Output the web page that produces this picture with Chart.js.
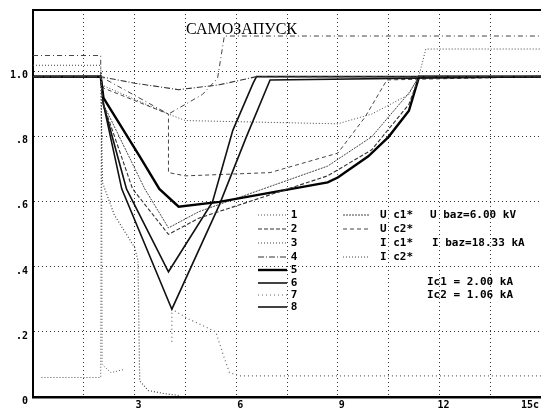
<!DOCTYPE html>
<html>
<head>
<meta charset="utf-8">
<script src="https://cdn.jsdelivr.net/npm/chart.js@4"></script>
<style>
  html, body { margin: 0; padding: 0; background: #fff; }
  canvas { display: block; }
</style>
</head>
<body>
<canvas id="grafico" width="541" height="410"></canvas>
<script>
// Ejes
const xTickValues = [0, 1.5, 3, 4.5, 6, 7.5, 9, 10.5, 12, 13.5, 15];
const xTickLabels = ['', '', '3', '', '6', '', '9', '', '12', '', '15c     '];
const yTickValues = [0, 0.2, 0.4, 0.6, 0.8, 1.0];
const yTickLabels = ['0', '.2', '.4', '.6', '.8', '1.0'];

// Curvas 1..8 (tiempo, valor relativo)
const t1 = [0.25, 2.0, 2.02, 2.04, 2.3, 2.7];
const v1 = [0.06, 0.06, 1.0, 0.1, 0.075, 0.085];

const t2 = [0, 2, 2.08, 2.94, 4.0, 4.9, 8.7, 10.0, 11.1, 11.4, 15];
const v2 = [0.985, 0.985, 0.9, 0.64, 0.50, 0.55, 0.68, 0.76, 0.9, 0.985, 0.985];

const t3 = [0, 2, 2.05, 2.4, 3.0, 3.1, 3.15, 3.4, 3.9, 4.3];
const v3 = [0.985, 0.985, 0.66, 0.56, 0.46, 0.42, 0.05, 0.02, 0.01, 0.005];

const t4 = [0, 2, 3.0, 4.3, 5.5, 6.6, 15];
const v4 = [0.985, 0.985, 0.965, 0.945, 0.96, 0.985, 0.985];

const t5 = [0, 2, 2.08, 3.15, 3.73, 4.3, 5.5, 8.7, 9.0, 9.9, 10.5, 11.1, 11.4, 15];
const v5 = [0.985, 0.985, 0.92, 0.74, 0.64, 0.585, 0.6, 0.66, 0.675, 0.74, 0.8, 0.88, 0.985, 0.985];

const t6 = [0, 2, 2.08, 2.62, 4.1, 5.5, 6.3, 7.0, 15];
const v6 = [0.985, 0.985, 0.9, 0.64, 0.27, 0.59, 0.8, 0.975, 0.985];

const t7 = [4.1, 4.1, 4.6, 5.4, 5.6, 5.8, 6.1, 15];
const v7 = [0.17, 0.27, 0.24, 0.2, 0.135, 0.075, 0.065, 0.065];

const t8 = [0, 2, 2.08, 2.76, 4.0, 5.3, 5.9, 6.5, 6.6, 15];
const v8 = [0.985, 0.985, 0.9, 0.64, 0.385, 0.6, 0.82, 0.965, 0.985, 0.985];

// Tensiones y corrientes de las secciones
const tUc1 = [0, 2, 2.08, 3.3, 4.0, 4.9, 8.7, 10.0, 11.1, 11.4, 15];
const vUc1 = [0.985, 0.985, 0.9, 0.64, 0.52, 0.57, 0.71, 0.8, 0.935, 0.985, 0.985];

const tUc2 = [0, 2, 2.08, 4.0, 4.0, 4.5, 7.0, 9.0, 9.8, 10.45, 15];
const vUc2 = [0.985, 0.985, 0.95, 0.87, 0.69, 0.68, 0.69, 0.75, 0.86, 0.975, 0.985];

const tIc1 = [0, 2, 2, 4.0, 5.0, 5.45, 5.65, 15];
const vIc1 = [1.05, 1.05, 0.985, 0.87, 0.93, 0.98, 1.11, 1.11];

const tIc2 = [0, 2, 2.02, 4.0, 4.5, 9.0, 10.0, 11.1, 11.4, 11.6, 15];
const vIc2 = [1.02, 1.02, 0.96, 0.87, 0.85, 0.84, 0.87, 0.93, 0.99, 1.07, 1.07];

const pts = (t, v) => t.map((x, i) => ({ x: x, y: v[i] }));

const curve = (label, t, v, color, width, dash) => ({
    label: label,
    data: pts(t, v),
    borderColor: color,
    borderWidth: width,
    borderDash: dash,
    pointRadius: 0,
    tension: 0,
    fill: false
});

const datasets = [
    curve('1', t1, v1, '#555', 1, [1, 2]),
    curve('2', t2, v2, '#333', 1.1, [4, 2]),
    curve('3', t3, v3, '#444', 1.2, [1, 2]),
    curve('4', t4, v4, '#333', 1.1, [6, 2, 1, 2]),
    curve('5', t5, v5, '#000', 2.4, []),
    curve('6', t6, v6, '#111', 1.6, []),
    curve('7', t7, v7, '#666', 1.2, [1, 3]),
    curve('8', t8, v8, '#111', 1.6, []),
    curve('U c1*', tUc1, vUc1, '#444', 1, [2, 1]),
    curve('U c2*', tUc2, vUc2, '#444', 1, [4, 3]),
    curve('I c1*', tIc1, vIc1, '#444', 1, [5, 3, 1, 3]),
    curve('I c2*', tIc2, vIc2, '#444', 1, [1, 2])
];

// Leyenda y textos dentro del gráfico
const legendRows = [215, 229, 243, 257, 270, 283, 295, 307];

const textos = {
    id: 'textos',
    afterDraw(chart) {
        const ctx = chart.ctx;
        const area = chart.chartArea;
        ctx.save();
        // marco superior
        ctx.strokeStyle = '#000';
        ctx.lineWidth = 2;
        ctx.beginPath();
        ctx.moveTo(area.left, area.top);
        ctx.lineTo(area.right, area.top);
        ctx.stroke();

        ctx.fillStyle = '#000';
        ctx.font = '16px "Liberation Serif"';
        ctx.textAlign = 'left';
        ctx.textBaseline = 'middle';
        ctx.fillText('САМОЗАПУСК', 186, 30);

        const sample = (ds, x1, x2, y) => {
            ctx.strokeStyle = ds.borderColor;
            ctx.lineWidth = ds.borderWidth;
            ctx.setLineDash(ds.borderDash);
            ctx.beginPath();
            ctx.moveTo(x1, y);
            ctx.lineTo(x2, y);
            ctx.stroke();
            ctx.setLineDash([]);
        };

        ctx.font = 'bold 11px "DejaVu Sans Mono"';
        ctx.fillStyle = '#000';
        for (let i = 0; i < 8; i++) {
            sample(chart.data.datasets[i], 258, 287, legendRows[i]);
            ctx.textAlign = 'center';
            ctx.fillText(chart.data.datasets[i].label, 294, legendRows[i]);
        }
        ctx.textAlign = 'left';
        [8, 9, 10, 11].forEach((d, r) => {
            if (d !== 10) sample(chart.data.datasets[d], 343, 370, legendRows[r]);
            ctx.fillText(chart.data.datasets[d].label, 380, legendRows[r]);
        });
        ctx.fillText('U baz=6.00 kV', 430, legendRows[0]);
        ctx.fillText('I baz=18.33 kA', 432, legendRows[2]);
        ctx.fillText('Ic1 = 2.00 kA', 427, 282);
        ctx.fillText('Ic2 = 1.06 kA', 427, 295);
        ctx.restore();
    }
};

const tickFont = { family: 'DejaVu Sans Mono', size: 10, weight: 'bold' };

new Chart(document.getElementById('grafico').getContext('2d'), {
    type: 'line',
    data: { datasets: datasets },
    options: {
        responsive: false,
        animation: false,
        devicePixelRatio: 1,
        layout: { padding: { top: 10, left: 0, right: 0, bottom: 0 } },
        plugins: { legend: { display: false }, tooltip: { enabled: false } },
        scales: {
            x: {
                type: 'linear',
                min: 0,
                max: 15,
                afterBuildTicks: s => { s.ticks = xTickValues.map(v => ({ value: v })); },
                afterFit: s => { s.height = 13; s.paddingLeft = 0; s.paddingRight = 0; },
                ticks: {
                    autoSkip: false,
                    maxRotation: 0,
                    padding: 2,
                    labelOffset: 4,
                    color: '#000',
                    font: tickFont,
                    callback: (val, i) => xTickLabels[i]
                },
                grid: { color: '#333', lineWidth: 1, drawTicks: false },
                border: { display: true, color: '#000', width: 2.5, dash: [1, 3] }
            },
            y: {
                min: 0,
                max: 1.19,
                afterBuildTicks: s => { s.ticks = yTickValues.map(v => ({ value: v })); },
                afterFit: s => { s.width = 33; s.paddingTop = 0; s.paddingBottom = 0; },
                ticks: {
                    padding: 5,
                    labelOffset: 4,
                    color: '#000',
                    font: tickFont,
                    callback: (val, i) => yTickLabels[i]
                },
                grid: { color: '#333', lineWidth: 1, drawTicks: false },
                border: { display: true, color: '#000', width: 2, dash: [1, 3] }
            }
        }
    },
    plugins: [textos]
});
</script>
</body>
</html>
